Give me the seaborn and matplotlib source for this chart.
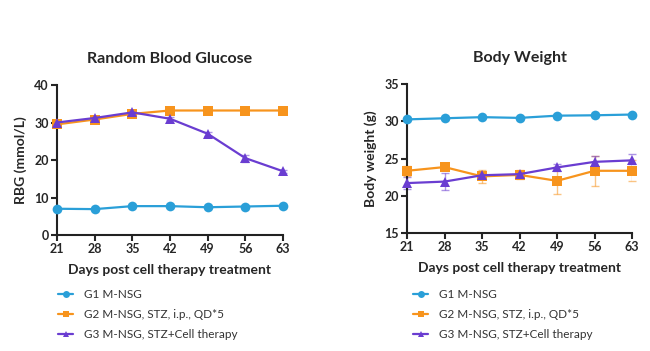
import numpy as np
import pandas as pd
import matplotlib
matplotlib.use("Agg")
import matplotlib.pyplot as plt
import seaborn as sns
from matplotlib.lines import Line2D

days = [21, 28, 35, 42, 49, 56, 63]
groups = ["G1 M-NSG", "G2 M-NSG, STZ, i.p., QD*5", "G3 M-NSG, STZ+Cell therapy"]

rbg_g1 = [7.0, 6.9, 7.7, 7.7, 7.4, 7.6, 7.8]
rbg_g2 = [29.5, 30.8, 32.3, 33.2, 33.2, 33.2, 33.2]
rbg_g3 = [30.0, 31.2, 32.7, 31.0, 27.0, 20.5, 17.0]
rbg_g1_err = [0.2, 0.2, 0.2, 0.2, 0.2, 0.2, 0.2]
rbg_g2_err = [0.3, 0.3, 0.3, 0.2, 0.2, 0.2, 0.2]
rbg_g3_err = [0.3, 0.4, 0.4, 0.4, 0.5, 0.9, 0.4]

bw_g1 = [30.25, 30.4, 30.55, 30.45, 30.75, 30.8, 30.9]
bw_g2 = [23.35, 23.85, 22.6, 22.8, 22.0, 23.35, 23.35]
bw_g3 = [21.7, 21.9, 22.75, 22.9, 23.8, 24.55, 24.75]
bw_g1_err = [0.1, 0.1, 0.1, 0.1, 0.1, 0.1, 0.1]
bw_g2_err = [0.7, 0.2, 0.85, 0.6, 1.8, 2.0, 1.4]
bw_g3_err = [0.8, 1.1, 0.2, 0.4, 0.5, 0.8, 0.8]

colors = ["#2a9fd8", "#f7941d", "#6a3dd1"]
markers = ["o", "s", "^"]

sns.set_theme(style="ticks")
plt.rcParams["font.family"] = ["Lato", "DejaVu Sans"]
plt.rcParams["axes.linewidth"] = 1.5

fig = plt.figure(figsize=(6.5, 3.51), dpi=100)
ax1 = fig.add_axes([57/650, 1-235/351, 226/650, 150/351])
ax2 = fig.add_axes([407/650, 1-233/351, 225/650, 149/351])

def make_df(vals):
    rows = []
    for g, v in zip(groups, vals):
        for d, y in zip(days, v):
            rows.append({"day": d, "val": y, "group": g})
    return pd.DataFrame(rows)

def draw(ax, vals, errs, ylim, yticks, ylabel, title):
    df = make_df(vals)
    for i, g in enumerate(groups):
        sub = df[df.group == g]
        ax.errorbar(sub["day"], sub["val"], yerr=errs[i], fmt="none",
                    ecolor=colors[i], elinewidth=1.0, capsize=3, capthick=1.0,
                    alpha=0.55, zorder=2)
    sns.lineplot(data=df, x="day", y="val", hue="group", style="group",
                 palette=colors, markers=markers, dashes=False, ax=ax,
                 linewidth=1.6, markersize=7, markeredgewidth=0,
                 legend=False, zorder=3)
    ax.set_xlim(21, 63)
    ax.set_ylim(*ylim)
    ax.set_xticks(days)
    ax.set_yticks(yticks)
    ax.tick_params(axis="both", length=4, width=1.5, labelsize=9, pad=2)
    for lab in ax.get_xticklabels() + ax.get_yticklabels():
        lab.set_fontweight("bold")
    ax.set_xlabel("Days post cell therapy treatment", fontsize=10, fontweight="bold", labelpad=6)
    ax.set_ylabel(ylabel, fontsize=10, fontweight="bold", labelpad=5)
    ax.set_title(title, fontsize=11.5, fontweight="bold", pad=16)
    for s in ["top", "right"]:
        ax.spines[s].set_visible(False)
    for s in ["left", "bottom"]:
        ax.spines[s].set_color("#222222")
    for m in ax.get_children():
        if isinstance(m, Line2D):
            m.set_clip_on(False)

draw(ax1, [rbg_g1, rbg_g2, rbg_g3], [rbg_g1_err, rbg_g2_err, rbg_g3_err],
     (0, 40), [0, 10, 20, 30, 40], "RBG (mmol/L)", "Random Blood Glucose")
draw(ax2, [bw_g1, bw_g2, bw_g3], [bw_g1_err, bw_g2_err, bw_g3_err],
     (15, 35), [15, 20, 25, 30, 35], "Body weight (g)", "Body Weight")

handles = [Line2D([0], [0], color=c, marker=m, markersize=5, linewidth=1.6,
                  markeredgewidth=0) for c, m in zip(colors, markers)]
for x0 in [58/650, 413/650]:
    fig.legend(handles, groups, loc="upper left", bbox_to_anchor=(x0, 1-289/351),
               frameon=False, fontsize=8.5, handlelength=1.3, handletextpad=0.9,
               labelspacing=0.75, borderaxespad=0, borderpad=0, labelcolor="#333333")

fig.savefig("out.png", dpi=100)
